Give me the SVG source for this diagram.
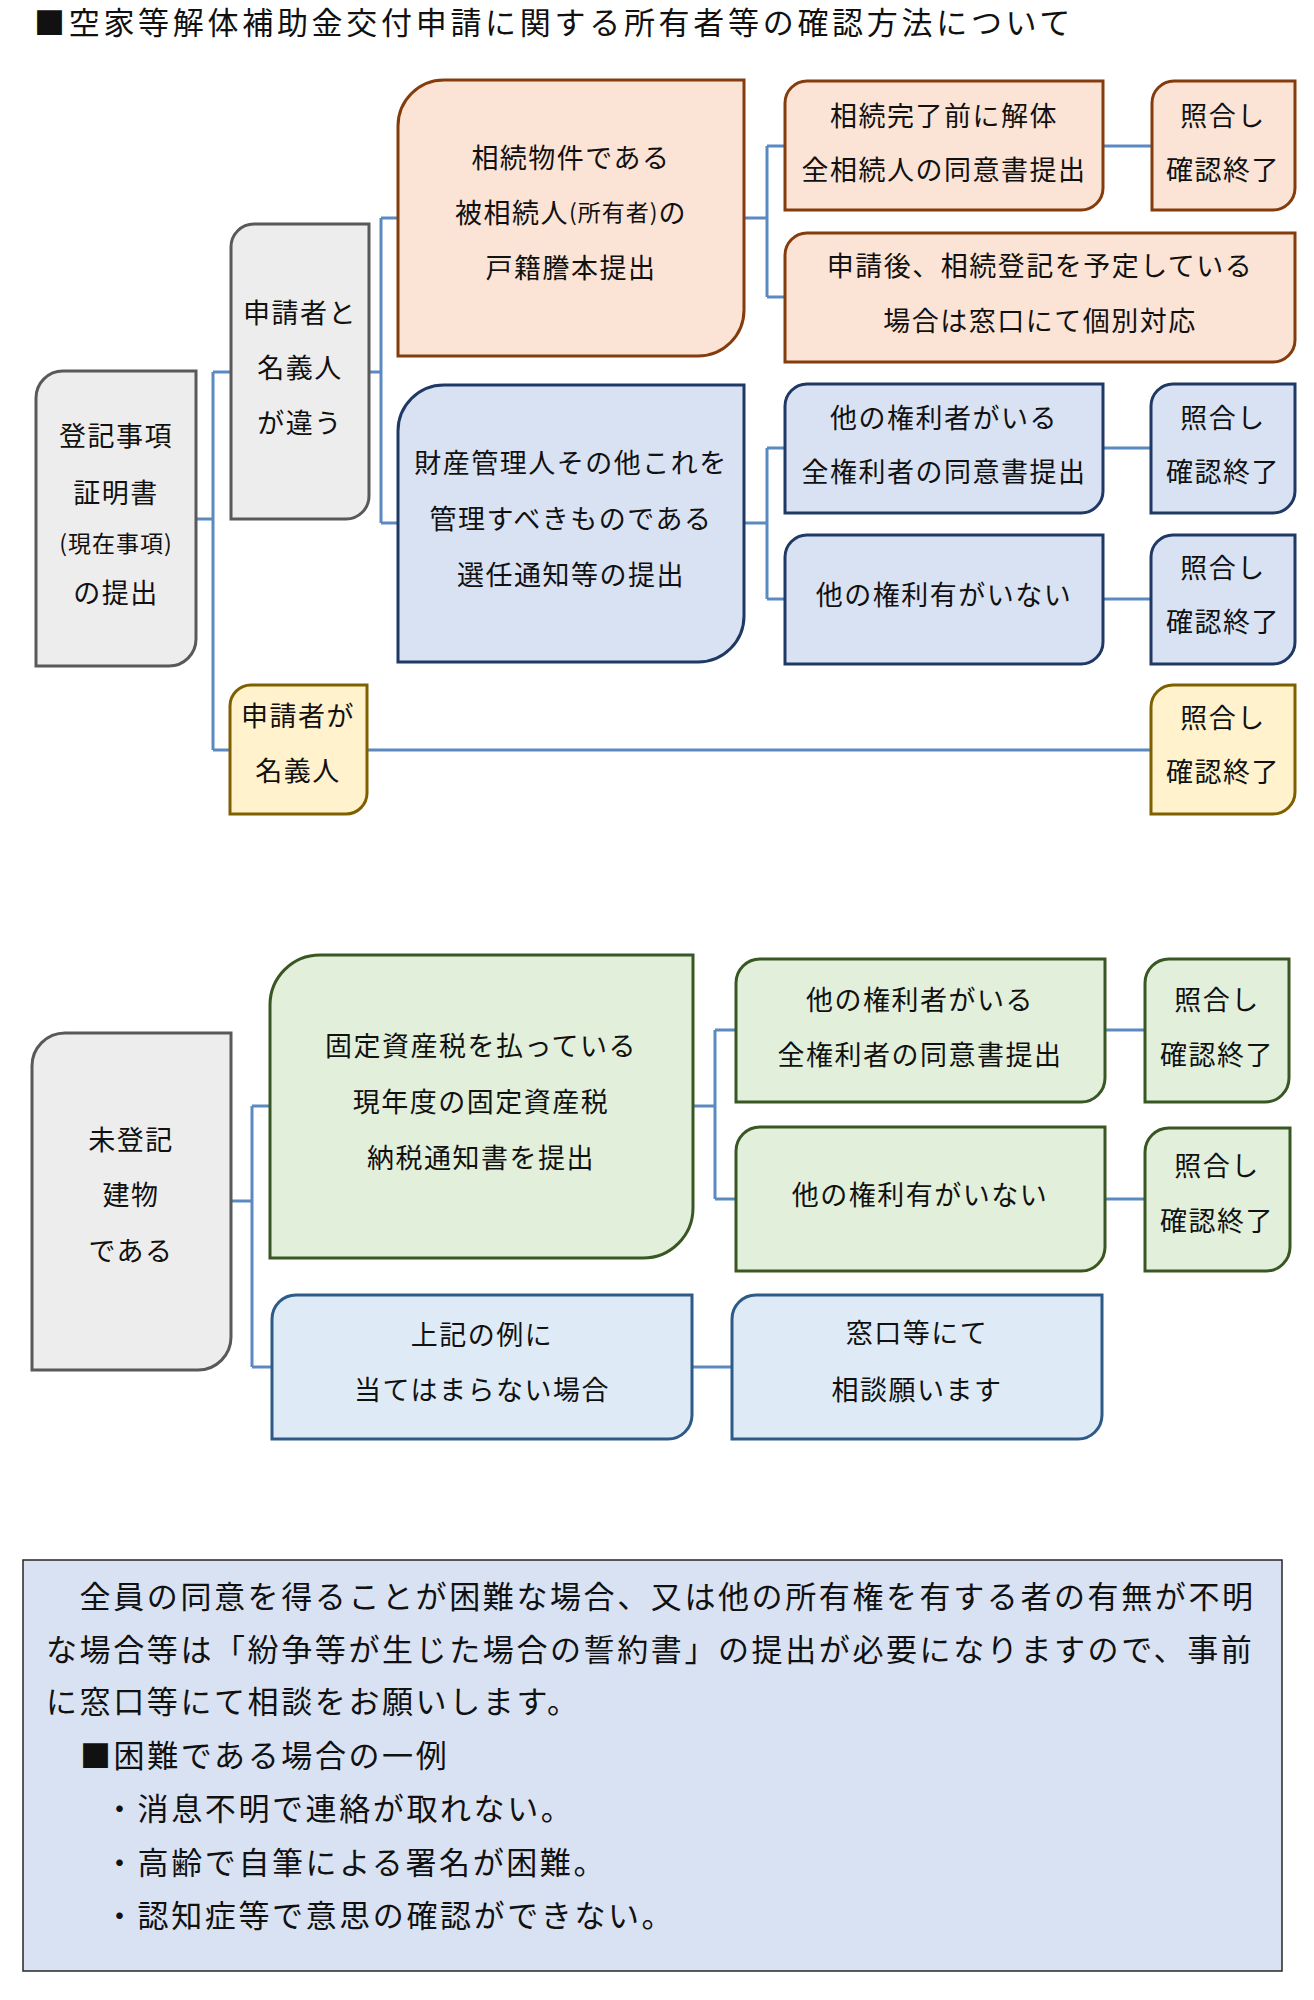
<svg xmlns="http://www.w3.org/2000/svg" width="1314" height="2000" viewBox="0 0 1314 2000">
<style>
text{font-family:"Noto Sans CJK JP","Noto Sans",sans-serif;fill:#111;dominant-baseline:central}
.t{font-size:27px;letter-spacing:1.5px;text-anchor:middle}
.sm{font-size:23px;letter-spacing:1px}
.title{font-size:31px;letter-spacing:3.7px}
.note{font-size:31px;letter-spacing:2.6px}
.n{stroke-width:3}
.gray{fill:#EDEDED;stroke:#595959}
.org{fill:#FBE4D5;stroke:#843C0C}
.blu{fill:#D9E2F3;stroke:#1F3864}
.yel{fill:#FFF2CC;stroke:#7F6000}
.grn{fill:#E2EFDA;stroke:#385723}
.lbl{fill:#DEEBF7;stroke:#2E5A87}
.c{fill:none;stroke:#5B8AC0;stroke-width:3}
</style>
<rect width="1314" height="2000" fill="#fff"/>
<text class="title" x="34" y="20">■空家等解体補助金交付申請に関する所有者等の確認方法について</text>

<g id="connectors">
<path class="c" d="M196,519 H213 M213,372 V750 M213,372 H231 M213,750 H230"/>
<path class="c" d="M369,372 H381 M381,218 V523 M381,218 H398 M381,523 H398"/>
<path class="c" d="M744,218 H767 M767,146 V297 M767,146 H785 M767,297 H785"/>
<path class="c" d="M744,523 H767 M767,448 V599 M767,448 H785 M767,599 H785"/>
<path class="c" d="M1103,146 H1152"/>
<path class="c" d="M1103,448 H1151"/>
<path class="c" d="M1103,599 H1151"/>
<path class="c" d="M367,750 H1151"/>
<path class="c" d="M231,1201 H252 M252,1106 V1367 M252,1106 H270 M252,1367 H272"/>
<path class="c" d="M693,1106 H715 M715,1030 V1199 M715,1030 H736 M715,1199 H736"/>
<path class="c" d="M1105,1030 H1145"/>
<path class="c" d="M1105,1199 H1145"/>
<path class="c" d="M692,1367 H732"/>
</g>

<g id="nodeA">
<path class="n gray" d="M63,371 H196 V639 A27,27 0 0 1 169,666 H36 V398 A27,27 0 0 1 63,371 Z"/>
<text class="t" x="116" y="434">登記事項</text>
<text class="t" x="116" y="491">証明書</text>
<text class="t sm" x="116" y="542">(現在事項)</text>
<text class="t" x="116" y="591">の提出</text>
</g>
<g id="nodeB">
<path class="n gray" d="M254,224 H369 V496 A23,23 0 0 1 346,519 H231 V247 A23,23 0 0 1 254,224 Z"/>
<text class="t" x="300" y="311">申請者と</text>
<text class="t" x="300" y="366">名義人</text>
<text class="t" x="300" y="421">が違う</text>
</g>
<g id="nodeC">
<path class="n yel" d="M251,685 H367 V793 A21,21 0 0 1 346,814 H230 V706 A21,21 0 0 1 251,685 Z"/>
<text class="t" x="298" y="714">申請者が</text>
<text class="t" x="298" y="769">名義人</text>
</g>
<g id="nodeD">
<path class="n org" d="M444,80 H744 V310 A46,46 0 0 1 698,356 H398 V126 A46,46 0 0 1 444,80 Z"/>
<text class="t" x="571" y="156">相続物件である</text>
<text class="t" x="571" y="211">被相続人<tspan class="sm">(所有者)</tspan>の</text>
<text class="t" x="571" y="266">戸籍謄本提出</text>
</g>
<g id="nodeE">
<path class="n blu" d="M444,385 H744 V616 A46,46 0 0 1 698,662 H398 V431 A46,46 0 0 1 444,385 Z"/>
<text class="t" x="571" y="461">財産管理人その他これを</text>
<text class="t" x="571" y="517">管理すべきものである</text>
<text class="t" x="571" y="573">選任通知等の提出</text>
</g>
<g id="nodeF">
<path class="n org" d="M807,81 H1103 V188 A22,22 0 0 1 1081,210 H785 V103 A22,22 0 0 1 807,81 Z"/>
<text class="t" x="944" y="114">相続完了前に解体</text>
<text class="t" x="944" y="168">全相続人の同意書提出</text>
</g>
<g id="nodeG">
<path class="n org" d="M1174,81 H1295 V188 A22,22 0 0 1 1273,210 H1152 V103 A22,22 0 0 1 1174,81 Z"/>
<text class="t" x="1223" y="114">照合し</text>
<text class="t" x="1223" y="168">確認終了</text>
</g>
<g id="nodeH">
<path class="n org" d="M807,233 H1295 V340 A22,22 0 0 1 1273,362 H785 V255 A22,22 0 0 1 807,233 Z"/>
<text class="t" x="1040" y="264">申請後、相続登記を予定している</text>
<text class="t" x="1040" y="319">場合は窓口にて個別対応</text>
</g>
<g id="nodeI">
<path class="n blu" d="M807,384 H1103 V491 A22,22 0 0 1 1081,513 H785 V406 A22,22 0 0 1 807,384 Z"/>
<text class="t" x="944" y="416">他の権利者がいる</text>
<text class="t" x="944" y="470">全権利者の同意書提出</text>
</g>
<g id="nodeJ">
<path class="n blu" d="M1173,384 H1295 V491 A22,22 0 0 1 1273,513 H1151 V406 A22,22 0 0 1 1173,384 Z"/>
<text class="t" x="1223" y="416">照合し</text>
<text class="t" x="1223" y="470">確認終了</text>
</g>
<g id="nodeK">
<path class="n blu" d="M807,535 H1103 V642 A22,22 0 0 1 1081,664 H785 V557 A22,22 0 0 1 807,535 Z"/>
<text class="t" x="944" y="593">他の権利有がいない</text>
</g>
<g id="nodeL">
<path class="n blu" d="M1173,535 H1295 V642 A22,22 0 0 1 1273,664 H1151 V557 A22,22 0 0 1 1173,535 Z"/>
<text class="t" x="1223" y="566">照合し</text>
<text class="t" x="1223" y="620">確認終了</text>
</g>
<g id="nodeM">
<path class="n yel" d="M1173,685 H1295 V792 A22,22 0 0 1 1273,814 H1151 V707 A22,22 0 0 1 1173,685 Z"/>
<text class="t" x="1223" y="716">照合し</text>
<text class="t" x="1223" y="770">確認終了</text>
</g>

<g id="nodeN">
<path class="n gray" d="M65,1033 H231 V1337 A33,33 0 0 1 198,1370 H32 V1066 A33,33 0 0 1 65,1033 Z"/>
<text class="t" x="131" y="1138">未登記</text>
<text class="t" x="131" y="1193">建物</text>
<text class="t" x="131" y="1249">である</text>
</g>
<g id="nodeO">
<path class="n grn" d="M320,955 H693 V1208 A50,50 0 0 1 643,1258 H270 V1005 A50,50 0 0 1 320,955 Z"/>
<text class="t" x="481" y="1044">固定資産税を払っている</text>
<text class="t" x="481" y="1100">現年度の固定資産税</text>
<text class="t" x="481" y="1156">納税通知書を提出</text>
</g>
<g id="nodeP">
<path class="n lbl" d="M296,1295 H692 V1415 A24,24 0 0 1 668,1439 H272 V1319 A24,24 0 0 1 296,1295 Z"/>
<text class="t" x="482" y="1333">上記の例に</text>
<text class="t" x="482" y="1388">当てはまらない場合</text>
</g>
<g id="nodeQ">
<path class="n grn" d="M760,959 H1105 V1078 A24,24 0 0 1 1081,1102 H736 V983 A24,24 0 0 1 760,959 Z"/>
<text class="t" x="920" y="998">他の権利者がいる</text>
<text class="t" x="920" y="1053">全権利者の同意書提出</text>
</g>
<g id="nodeR">
<path class="n grn" d="M1169,959 H1289 V1078 A24,24 0 0 1 1265,1102 H1145 V983 A24,24 0 0 1 1169,959 Z"/>
<text class="t" x="1217" y="998">照合し</text>
<text class="t" x="1217" y="1053">確認終了</text>
</g>
<g id="nodeS">
<path class="n grn" d="M760,1127 H1105 V1247 A24,24 0 0 1 1081,1271 H736 V1151 A24,24 0 0 1 760,1127 Z"/>
<text class="t" x="920" y="1193">他の権利有がいない</text>
</g>
<g id="nodeT">
<path class="n grn" d="M1169,1128 H1290 V1247 A24,24 0 0 1 1266,1271 H1145 V1152 A24,24 0 0 1 1169,1128 Z"/>
<text class="t" x="1217" y="1164">照合し</text>
<text class="t" x="1217" y="1219">確認終了</text>
</g>
<g id="nodeU">
<path class="n lbl" d="M756,1295 H1102 V1415 A24,24 0 0 1 1078,1439 H732 V1319 A24,24 0 0 1 756,1295 Z"/>
<text class="t" x="917" y="1331">窓口等にて</text>
<text class="t" x="917" y="1388">相談願います</text>
</g>

<g id="note">
<rect x="23" y="1560" width="1259" height="411" fill="#D9E2F3" stroke="#262626" stroke-width="1.5"/>
<text class="note" x="46" y="1594">　全員の同意を得ることが困難な場合、又は他の所有権を有する者の有無が不明</text>
<text class="note" x="46" y="1647">な場合等は「紛争等が生じた場合の誓約書」の提出が必要になりますので、事前</text>
<text class="note" x="46" y="1699">に窓口等にて相談をお願いします。</text>
<text class="note" x="80" y="1753">■困難である場合の一例</text>
<text class="note" x="104" y="1806">・消息不明で連絡が取れない。</text>
<text class="note" x="104" y="1860">・高齢で自筆による署名が困難。</text>
<text class="note" x="104" y="1913">・認知症等で意思の確認ができない。</text>
</g>
</svg>
